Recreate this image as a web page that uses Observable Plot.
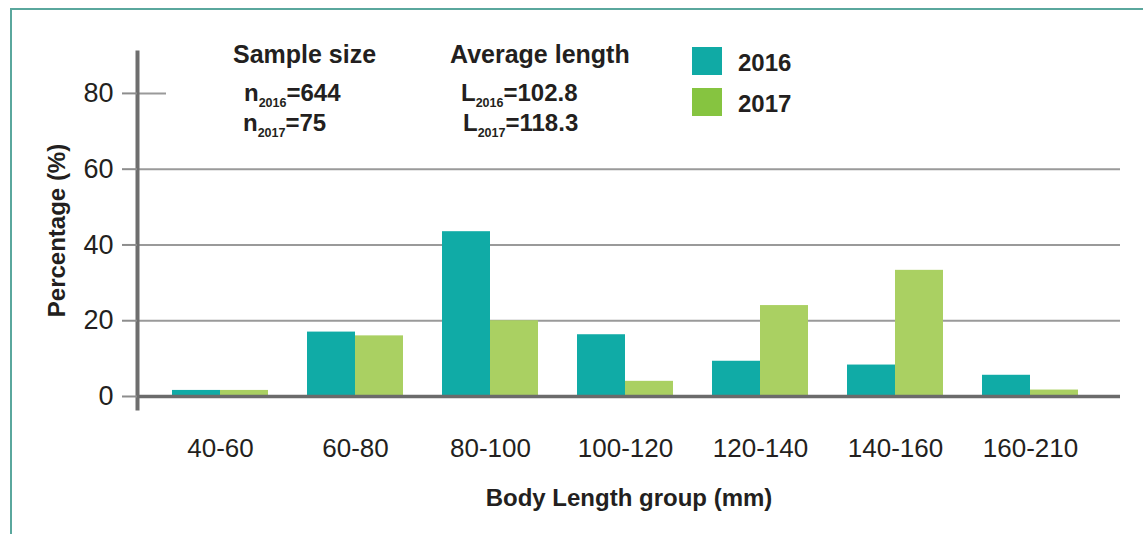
<!DOCTYPE html>
<html>
<head>
<meta charset="utf-8">
<script src="https://cdn.jsdelivr.net/npm/d3@7"></script>
<script src="https://cdn.jsdelivr.net/npm/@observablehq/plot@0.6"></script>
<style>
  html, body { margin: 0; padding: 0; background: #fff; }
  #wrap { position: relative; width: 1143px; height: 534px; overflow: hidden; font-family: "Liberation Sans", Arial, sans-serif; color: #231f20; }
  #border { position: absolute; left: 10px; top: 8px; width: 1200px; height: 600px; border-left: 2px solid #5aa79d; border-top: 2px solid #5aa79d; }
  #chart { position: absolute; left: 0; top: 0; }
  #cover { position: absolute; left: 166px; top: 30px; width: 970px; height: 110px; background: #fff; }
  .ann { position: absolute; white-space: nowrap; font-weight: bold; line-height: 1; }
  .head { font-size: 25px; }
  .val { font-size: 24px; }
  .val sub { font-size: 12.5px; vertical-align: -6px; line-height: 0; }
  .sw { position: absolute; width: 30px; height: 28px; }
  .lg { position: absolute; font-size: 24px; font-weight: bold; line-height: 1; }
  svg g[aria-label="y-axis label"] text, svg g[aria-label="x-axis label"] text { font-family: "Liberation Sans", Arial, sans-serif; font-weight: bold; font-size: 24px; }
</style>
</head>
<body>
<div id="wrap">
  <div id="border"></div>
  <div id="chart"></div>
  <div id="cover"></div>
  <div id="annot"></div>
</div>
<script>
// ---- data ----
const groups = ["40-60", "60-80", "80-100", "100-120", "120-140", "140-160", "160-210"];
const years = ["2016", "2017"];
const pct2016 = [1.6, 17.0, 43.5, 16.3, 9.3, 8.3, 5.6];
const pct2017 = [1.6, 16.0, 20.0, 4.0, 24.0, 33.3, 1.7];
const yTicks = [0, 20, 40, 60, 80];
const sampleSize = [644, 75];
const avgLength = [102.8, 118.3];

const barColors = ["#10aba6", "#aad062"];
const legendColors = ["#10aaa5", "#86c440"];

const data2016 = groups.map((g, i) => ({group: g, year: years[0], value: pct2016[i]}));
const data2017 = groups.map((g, i) => ({group: g, year: years[1], value: pct2017[i]}));

const chart = Plot.plot({
  width: 1143,
  height: 534,
  marginTop: 52,
  marginBottom: 126,
  marginLeft: 137,
  marginRight: 23,
  style: {fontFamily: "'Liberation Sans', Arial, sans-serif", fontSize: "26px", color: "#231f20", background: "transparent"},
  x: {type: "band", domain: groups, paddingInner: 0.29, paddingOuter: 0.272, align: 0.45, axis: null},
  y: {domain: [-3.17, 90.8], axis: null},
  marks: [
    Plot.ruleY(yTicks.filter(d => d > 0), {stroke: "#9a9a9a", strokeWidth: 2}),
    Plot.barY(data2016, {x: "group", y: "value", fill: barColors[0], insetRight: 48}),
    Plot.barY(data2017, {x: "group", y: "value", fill: barColors[1], insetLeft: 48}),
    Plot.ruleY([0], {stroke: "#6b6b6b", strokeWidth: 3.5}),
    Plot.frame({anchor: "left", stroke: "#6e6e6e", strokeWidth: 4}),
    Plot.axisY(yTicks, {tickSize: 15, tickPadding: 9, stroke: "#8d8d8d", strokeWidth: 2, fill: "#231f20", fontSize: 27,
      label: "Percentage (%)", labelAnchor: "center", labelOffset: 90, labelArrow: "none"}),
    Plot.axisX({tickSize: 0, tickPadding: 30, fill: "#231f20", fontSize: 26,
      label: "Body Length group (mm)", labelAnchor: "center", labelOffset: 97, labelArrow: "none"})
  ]
});
document.getElementById("chart").appendChild(chart);

// ---- annotations & legend (HTML, real text) ----
const annot = document.getElementById("annot");
function add(html, cls, left, top) {
  const d = document.createElement("div");
  d.className = cls;
  d.style.left = left + "px";
  d.style.top = top + "px";
  d.innerHTML = html;
  annot.appendChild(d);
}
add("Sample size", "ann head", 233, 42);
add(`n<sub>${years[0]}</sub>=${sampleSize[0]}`, "ann val", 244, 81);
add(`n<sub>${years[1]}</sub>=${sampleSize[1]}`, "ann val", 243, 111);
add("Average length", "ann head", 450, 42);
add(`L<sub>${years[0]}</sub>=${avgLength[0]}`, "ann val", 461, 81);
add(`L<sub>${years[1]}</sub>=${avgLength[1]}`, "ann val", 463, 111);

years.forEach((y, i) => {
  const s = document.createElement("div");
  s.className = "sw";
  s.style.left = "692px";
  s.style.top = (47 + i * 41) + "px";
  s.style.background = legendColors[i];
  annot.appendChild(s);
  add(y, "lg", 738, 51 + i * 41);
});
</script>
</body>
</html>
